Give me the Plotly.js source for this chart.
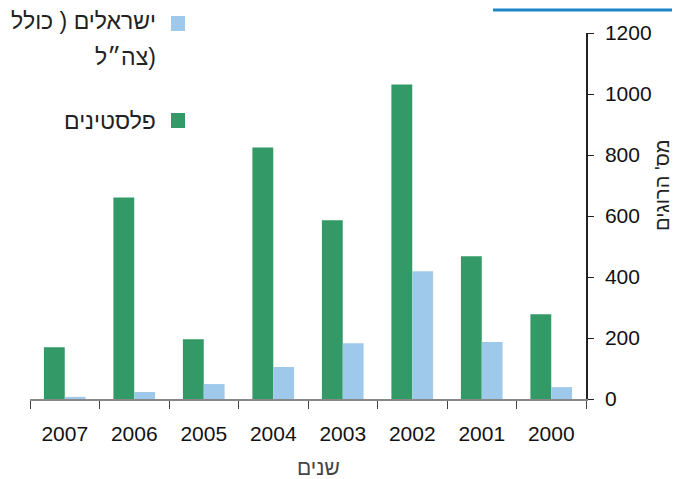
<!DOCTYPE html>
<html><head><meta charset="utf-8">
<script src="https://cdn.plot.ly/plotly-3.0.1.min.js"></script>
<style>html,body{margin:0;padding:0;background:#fff}#c{width:675px;height:479px}</style>
</head><body><div id="c"></div>
<script>
const years = ['2007','2006','2005','2004','2003','2002','2001','2000'];
const palestinians = [170, 661, 196, 825, 586, 1031, 468, 278];
const israelis = [7, 23, 49, 105, 183, 419, 187, 39];
const seriesNames = ['פלסטינים', 'ישראלים ( כולל צה״ל)'];
const legendLines = [['פלסטינים'], ['ישראלים ( כולל', 'צה״ל)']];
const colors = ['#339966', '#9FC9EA'];
const yTitle = "מס' הרוגים";
const xTitle = 'שנים';

const font = 'Liberation Sans, Arial, sans-serif';
const traces = [
  {type:'bar', x: years, y: palestinians, name: seriesNames[0], marker:{color: colors[0]}},
  {type:'bar', x: years, y: israelis, name: seriesNames[1], marker:{color: colors[1]}}
];
const px = x => (x-30)/556, py = y => (399-y)/366;
const layout = {
  width: 675, height: 479,
  margin: {l:30, r:89, t:33, b:80},
  paper_bgcolor:'#fff', plot_bgcolor:'#fff',
  showlegend: false,
  barmode: 'group', bargap: 0.4, bargroupgap: 0,
  font: {family: font, size: 20, color:'#222'},
  xaxis: {
    type:'category', tickson:'boundaries', ticks:'outside', ticklen:8, tickcolor:'#444',
    showline:true, linecolor:'#888', linewidth:1.5, showgrid:false,
    tickfont:{size:21, color:'#111'}, ticklabelstandoff: 15
  },
  yaxis: {
    side:'right', range:[0,1200], dtick:200, ticks:'outside', ticklen:6, tickcolor:'#222',
    showline:true, linecolor:'#222', linewidth:1.5, showgrid:false, zeroline:false,
    tickfont:{size:21, color:'#111'}, ticklabelstandoff: 7
  },
  shapes: [
    {type:'line', xref:'paper', yref:'paper', x0: px(493), x1: px(672), y0: py(10), y1: py(10),
     line:{color:'#1A86C8', width:3}},
    {type:'rect', xref:'paper', yref:'paper', x0:px(171), x1:px(185), y0:py(31), y1:py(16),
     fillcolor: colors[1], line:{width:0}},
    {type:'rect', xref:'paper', yref:'paper', x0:px(171), x1:px(185), y0:py(128), y1:py(113),
     fillcolor: colors[0], line:{width:0}}
  ],
  annotations: [
    {xref:'paper', yref:'paper', x:px(158), y:py(21), xanchor:'right', yanchor:'middle',
     text: legendLines[1][0], showarrow:false, font:{size:23, color:'#222'}},
    {xref:'paper', yref:'paper', x:px(158), y:py(57), xanchor:'right', yanchor:'middle',
     text: legendLines[1][1], showarrow:false, font:{size:23, color:'#222'}},
    {xref:'paper', yref:'paper', x:px(158), y:py(121), xanchor:'right', yanchor:'middle',
     text: legendLines[0][0], showarrow:false, font:{size:23, color:'#222'}},
    {xref:'paper', yref:'paper', x:px(662), y:py(185), xanchor:'center', yanchor:'middle', textangle:-90,
     text: yTitle, showarrow:false, font:{size:20, color:'#222'}, borderpad:0},
    {xref:'paper', yref:'paper', x:px(318), y:py(468), xanchor:'center', yanchor:'middle',
     text: xTitle, showarrow:false, font:{size:21, color:'#444'}}
  ]
};
Plotly.newPlot('c', traces, layout, {displayModeBar:false});
</script></body></html>
